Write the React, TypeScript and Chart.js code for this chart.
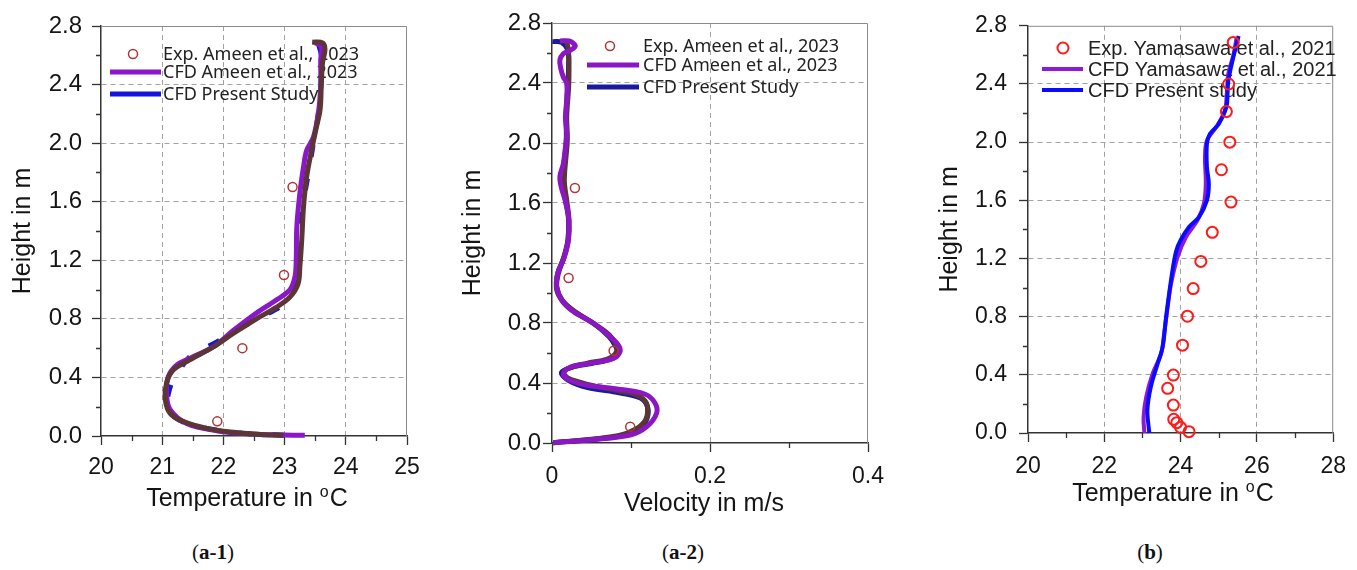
import React, { useEffect, useRef } from "react";
import { Chart, registerables } from "chart.js";

Chart.register(...registerables);

// ---------- shared ticks ----------
const heightTicks = [0, 0.4, 0.8, 1.2, 1.6, 2.0, 2.4, 2.8];
const heightMinor = [0.2, 0.6, 1.0, 1.4, 1.8, 2.2, 2.6];

// ---------- (a-1) temperature, Ameen ----------
const a1TempTicks = [20, 21, 22, 23, 24, 25];
const a1TempMinor = [20.5, 21.5, 22.5, 23.5, 24.5];
const a1ExpLabel = "Exp. Ameen et al., 2023";
const a1CfdLabel = "CFD Ameen et al., 2023";
const a1PresentLabel = "CFD Present Study";
const a1ExpTemp = [23.13, 22.99, 22.31, 21.9];
const a1ExpHeight = [1.7, 1.1, 0.6, 0.1];
const a1CfdTemp = [23.33, 22.98, 22.43, 21.89, 21.4, 21.13, 21.07, 21.1, 21.24, 21.45, 21.84, 22.16, 22.54, 22.87, 23.09, 23.17, 23.19, 23.2, 23.25, 23.31, 23.36, 23.47, 23.55, 23.59, 23.59, 23.6, 23.5];
const a1CfdHeight = [0.005, 0.007, 0.014, 0.036, 0.086, 0.18, 0.29, 0.405, 0.485, 0.53, 0.61, 0.72, 0.84, 0.93, 1.0, 1.09, 1.2, 1.43, 1.66, 1.84, 1.95, 2.04, 2.2, 2.39, 2.57, 2.66, 2.685];
const a1ShadowTemp = [22.98, 22.6, 22.16, 21.73, 21.35, 21.13, 21.05, 21.07, 21.18, 21.45, 21.84, 22.16, 22.54, 22.87, 23.09, 23.22, 23.25, 23.28, 23.31, 23.36, 23.44, 23.52, 23.58, 23.6, 23.62, 23.66, 23.62, 23.45];
const a1ShadowHeight = [0.005, 0.011, 0.025, 0.052, 0.098, 0.155, 0.25, 0.36, 0.45, 0.52, 0.61, 0.7, 0.8, 0.88, 0.95, 1.04, 1.16, 1.34, 1.57, 1.77, 1.95, 2.11, 2.23, 2.4, 2.55, 2.64, 2.685, 2.69];
const a1PresentTemp = [23.0, 22.6, 22.2, 21.75, 21.35, 21.12, 21.08, 21.12, 21.2, 21.5, 21.84, 22.2, 22.6, 22.98, 23.15, 23.22, 23.25, 23.33, 23.4, 23.47, 23.55, 23.6, 23.6, 23.55];
const a1PresentHeight = [0.005, 0.012, 0.022, 0.05, 0.095, 0.16, 0.22, 0.32, 0.4, 0.56, 0.63, 0.72, 0.81, 0.9, 1.0, 1.1, 1.38, 1.65, 1.82, 2.0, 2.2, 2.45, 2.6, 2.68];

// ---------- (a-2) velocity, Ameen ----------
const a2VelTicks = [0, 0.2, 0.4];
const a2VelMinor = [0.1, 0.3];
const a2ExpVel = [0.029, 0.021, 0.078, 0.099];
const a2ExpHeight = [1.7, 1.1, 0.615, 0.109];
const a2CfdVel = [0.0017, 0.05, 0.099, 0.12, 0.1325, 0.13, 0.118, 0.08, 0.045, 0.022, 0.0143, 0.0228, 0.0481, 0.0776, 0.0861, 0.084, 0.0734, 0.0523, 0.027, 0.0122, 0.0059, 0.0072, 0.0143, 0.02, 0.0215, 0.0207, 0.0165, 0.012, 0.01, 0.0143, 0.0165, 0.0186, 0.017, 0.0186, 0.0186, 0.0143, 0.011, 0.01, 0.0143, 0.022, 0.029, 0.028, 0.022, 0.01];
const a2CfdHeight = [0.002, 0.022, 0.053, 0.109, 0.2, 0.27, 0.325, 0.362, 0.385, 0.42, 0.46, 0.505, 0.531, 0.564, 0.61, 0.653, 0.709, 0.798, 0.876, 0.953, 1.042, 1.131, 1.22, 1.33, 1.42, 1.52, 1.62, 1.7, 1.776, 1.86, 1.95, 2.064, 2.17, 2.287, 2.398, 2.44, 2.5, 2.553, 2.595, 2.615, 2.642, 2.66, 2.68, 2.68];
const a2ShadowVel = [0.0017, 0.05, 0.085, 0.105, 0.118, 0.121, 0.118, 0.105, 0.0903, 0.0481, 0.0207, 0.015, 0.0207, 0.0439, 0.0692, 0.08, 0.0819, 0.0726, 0.0523, 0.029, 0.0143, 0.006, 0.0072, 0.0156, 0.0207, 0.0215, 0.0186, 0.0156, 0.0194, 0.0186, 0.0211, 0.0215, 0.0207, 0.0186];
const a2ShadowHeight = [0.002, 0.025, 0.05, 0.09, 0.15, 0.22, 0.28, 0.325, 0.342, 0.387, 0.431, 0.469, 0.498, 0.531, 0.558, 0.593, 0.642, 0.72, 0.798, 0.876, 0.942, 1.02, 1.131, 1.242, 1.353, 1.487, 1.62, 1.753, 2.02, 2.176, 2.376, 2.51, 2.62, 2.676];
const a2PresentVel = [0.0017, 0.05, 0.09, 0.11, 0.12, 0.121, 0.112, 0.085, 0.045, 0.02, 0.012, 0.025, 0.05, 0.075, 0.083, 0.08, 0.072, 0.052, 0.028, 0.013, 0.006, 0.008, 0.015, 0.02, 0.021, 0.017, 0.013, 0.015, 0.018, 0.018, 0.02, 0.021, 0.02, 0.012, 0.0005];
const a2PresentHeight = [0.002, 0.024, 0.05, 0.09, 0.16, 0.24, 0.3, 0.335, 0.37, 0.42, 0.47, 0.505, 0.53, 0.56, 0.6, 0.65, 0.71, 0.8, 0.876, 0.95, 1.04, 1.13, 1.24, 1.35, 1.49, 1.62, 1.75, 1.86, 2.0, 2.2, 2.38, 2.52, 2.62, 2.672, 2.676];

// ---------- (b) temperature, Yamasawa ----------
const bTempTicks = [20, 22, 24, 26, 28];
const bTempMinor = [21, 23, 25, 27];
const bExpLabel = "Exp. Yamasawa et al., 2021";
const bCfdLabel = "CFD Yamasawa et al., 2021";
const bPresentLabel = "CFD Present study";
const bExpTemp = [25.38, 25.26, 25.2, 25.29, 25.07, 25.32, 24.83, 24.53, 24.33, 24.18, 24.05, 23.81, 23.66, 23.81, 23.82, 23.9, 24.0, 24.22];
const bExpHeight = [2.686, 2.4, 2.21, 2.0, 1.81, 1.588, 1.38, 1.18, 0.993, 0.803, 0.604, 0.398, 0.307, 0.192, 0.094, 0.071, 0.039, 0.009];
const bCfdTemp = [23.05, 23.03, 23.1, 23.27, 23.49, 23.57, 23.66, 23.75, 23.92, 24.14, 24.44, 24.61, 24.66, 24.64, 24.69, 24.96, 25.16, 25.21, 25.25, 25.38, 25.47];
const bCfdHeight = [0, 0.11, 0.25, 0.41, 0.547, 0.684, 0.867, 1.027, 1.21, 1.348, 1.462, 1.576, 1.714, 1.897, 2.01, 2.114, 2.217, 2.33, 2.469, 2.594, 2.72];
const bPresentTemp = [23.18, 23.13, 23.22, 23.4, 23.53, 23.61, 23.7, 23.8, 23.89, 24.0, 24.22, 24.48, 24.69, 24.74, 24.69, 24.69, 24.77, 25.0, 25.2, 25.23, 25.25, 25.36, 25.52];
const bPresentHeight = [0, 0.158, 0.318, 0.478, 0.593, 0.776, 0.96, 1.14, 1.256, 1.325, 1.416, 1.485, 1.6, 1.714, 1.828, 1.988, 2.057, 2.125, 2.24, 2.33, 2.42, 2.56, 2.73];

// ---------- helpers ----------
const SANS = '"Liberation Sans", Arial, sans-serif';
const pts = (xs: number[], ys: number[]) => xs.map((x, i) => ({ x, y: ys[i] }));

function lineDs(label: string, xs: number[], ys: number[], color: string, width: number, order: number, extra: any = {}) {
  return {
    label,
    data: pts(xs, ys),
    showLine: true,
    borderColor: color,
    backgroundColor: color,
    borderWidth: width,
    pointRadius: 0,
    pointHoverRadius: 0,
    tension: 0.35,
    clip: 8,
    order,
    ...extra,
  };
}

function expDs(label: string, xs: number[], ys: number[], color: string, r: number, w: number) {
  return {
    label,
    data: pts(xs, ys),
    showLine: false,
    pointStyle: "circle",
    pointRadius: r,
    pointBorderWidth: w,
    pointBorderColor: color,
    pointBackgroundColor: "rgba(0,0,0,0)",
    borderColor: color,
    backgroundColor: "rgba(0,0,0,0)",
    clip: 8,
    order: 0,
  };
}

function axis(kind: "x" | "y", min: number, max: number, ticks: number[], fmt: (v: number) => string, box: number, pad: number, size: number, title?: any) {
  const edge = (v: number) => v === undefined || Math.abs(v - min) < 1e-9 || Math.abs(v - max) < 1e-9;
  return {
    type: "linear",
    min,
    max,
    afterBuildTicks: (s: any) => {
      s.ticks = ticks.map((v) => ({ value: v }));
    },
    afterFit: (s: any) => {
      if (kind === "x") s.height = box;
      else s.width = box;
    },
    ticks: {
      callback: (v: any) => fmt(Number(v)),
      font: { family: SANS, size },
      color: "#151515",
      padding: pad,
      maxRotation: 0,
      autoSkip: false,
    },
    grid: {
      color: (c: any) => (edge(c.tick ? c.tick.value : undefined) ? "rgba(0,0,0,0)" : "#a3a3a3"),
      lineWidth: 1,
      tickLength: 9,
      tickColor: "#333",
      tickWidth: 1.3,
      drawTicks: true,
    },
    border: { display: true, color: "#333", width: 1.5, dash: [5, 4] },
    title: title || { display: false },
  };
}

function yTitle(pt: number) {
  return {
    display: true,
    text: "Height in m",
    font: { family: SANS, size: 25 },
    color: "#151515",
    padding: { top: pt, bottom: 0 },
  };
}

function makeDecor(cfg: any) {
  return {
    id: "decor",
    beforeDatasetsDraw(chart: any) {
      const { ctx, chartArea: ca, scales } = chart;
      ctx.save();
      // top / right frame
      ctx.strokeStyle = "#8a8a8a";
      ctx.lineWidth = 1;
      ctx.setLineDash([]);
      ctx.beginPath();
      ctx.moveTo(ca.left, ca.top + 0.5);
      ctx.lineTo(ca.right - 0.5, ca.top + 0.5);
      ctx.lineTo(ca.right - 0.5, ca.bottom);
      ctx.stroke();
      // minor ticks
      ctx.strokeStyle = "#333";
      ctx.lineWidth = 1.3;
      ctx.beginPath();
      for (const v of cfg.minorX) {
        const px = Math.round(scales.x.getPixelForValue(v)) + 0.5;
        ctx.moveTo(px, ca.bottom);
        ctx.lineTo(px, ca.bottom + 5);
      }
      for (const v of cfg.minorY) {
        const py = Math.round(scales.y.getPixelForValue(v)) + 0.5;
        ctx.moveTo(ca.left, py);
        ctx.lineTo(ca.left - 5, py);
      }
      ctx.stroke();
      // legend (drawn beneath the curves)
      const lg = cfg.legend;
      ctx.font = `${lg.size}px ${lg.family}`;
      ctx.textBaseline = "middle";
      ctx.textAlign = "left";
      let k = 0;
      for (const ds of chart.data.datasets) {
        if (ds.legendHidden) continue;
        const y = lg.rows[k++];
        if (ds.showLine) {
          ctx.strokeStyle = ds.borderColor;
          ctx.lineWidth = lg.lineWidth;
          ctx.setLineDash([]);
          ctx.beginPath();
          ctx.moveTo(lg.lineX0, y);
          ctx.lineTo(lg.lineX1, y);
          ctx.stroke();
        } else {
          ctx.strokeStyle = ds.pointBorderColor;
          ctx.lineWidth = ds.pointBorderWidth;
          ctx.beginPath();
          ctx.arc(lg.markerX, y, ds.pointRadius, 0, Math.PI * 2);
          ctx.stroke();
        }
        ctx.fillStyle = lg.color;
        ctx.fillText(ds.label, lg.textX, y + 1);
      }
      ctx.restore();
    },
    afterDraw(chart: any) {
      const { ctx } = chart;
      const t = cfg.xTitle;
      ctx.save();
      ctx.fillStyle = "#151515";
      ctx.textBaseline = "alphabetic";
      ctx.textAlign = "left";
      const big = `${t.size}px ${SANS}`;
      const small = `${Math.round(t.size * 0.64)}px ${SANS}`;
      ctx.font = big;
      const w1 = ctx.measureText(t.main).width;
      const w3 = t.tail ? ctx.measureText(t.tail).width : 0;
      ctx.font = small;
      const w2 = t.sup ? ctx.measureText(t.sup).width + 1 : 0;
      let x = t.cx - (w1 + w2 + w3) / 2;
      const base = t.cy + t.size * 0.36;
      ctx.font = big;
      ctx.fillText(t.main, x, base);
      x += w1;
      if (t.sup) {
        ctx.font = small;
        ctx.fillText(t.sup, x, base - t.size * 0.38);
        x += w2;
      }
      if (t.tail) {
        ctx.font = big;
        ctx.fillText(t.tail, x, base);
      }
      ctx.restore();
    },
  };
}

const f1 = (v: number) => v.toFixed(1);
const f0 = (v: number) => String(Math.round(v));
const fv = (v: number) => (Math.abs(v) < 1e-9 ? "0" : v.toFixed(1));

function baseOptions(padding: any, x: any, y: any) {
  return {
    responsive: false,
    maintainAspectRatio: false,
    animation: false,
    devicePixelRatio: 1,
    events: [],
    layout: { padding },
    plugins: { legend: { display: false }, tooltip: { enabled: false }, title: { display: false } },
    scales: { x, y },
  };
}

function config1(): any {
  const purple = "#8a17c9";
  const brown = "#5c3535";
  const blue = "#1414e0";
  return {
    type: "scatter",
    data: {
      datasets: [
        expDs(a1ExpLabel, a1ExpTemp, a1ExpHeight, "#b23434", 4.5, 1.5),
        lineDs(a1CfdLabel, a1CfdTemp, a1CfdHeight, purple, 5, 2),
        lineDs(a1PresentLabel, a1PresentTemp, a1PresentHeight, blue, 5, 3, { borderDash: [12, 22] }),
        lineDs("CFD reference profile", a1ShadowTemp, a1ShadowHeight, brown, 5, 1, { legendHidden: true }),
      ],
    },
    options: baseOptions(
      { left: 0, top: 26, right: 43, bottom: 0 },
      axis("x", 20, 25, a1TempTicks, f0, 84, 9, 23),
      axis("y", 0, 2.8, heightTicks, f1, 101, 10, 24, yTitle(8))
    ),
    plugins: [
      makeDecor({
        minorX: a1TempMinor,
        minorY: heightMinor,
        legend: { markerX: 133, lineX0: 110, lineX1: 161, textX: 163, rows: [54, 72, 94], size: 18, family: '"Noto Sans", sans-serif', color: "#222", lineWidth: 5 },
        xTitle: { main: "Temperature in ", sup: "o", tail: "C", cx: 247, cy: 497, size: 25 },
      }),
    ],
  };
}

function config2(): any {
  const purple = "#8a17c2";
  const brown = "#5c3535";
  const blue = "#1a1aa0";
  return {
    type: "scatter",
    data: {
      datasets: [
        expDs(a1ExpLabel, a2ExpVel, a2ExpHeight, "#b23434", 4.5, 1.5),
        lineDs(a1CfdLabel, a2CfdVel, a2CfdHeight, purple, 5, 1),
        lineDs(a1PresentLabel, a2PresentVel, a2PresentHeight, blue, 5, 3),
        lineDs("CFD reference profile", a2ShadowVel, a2ShadowHeight, brown, 5, 2, { legendHidden: true }),
      ],
    },
    options: baseOptions(
      { left: 0, top: 23, right: 32, bottom: 0 },
      axis("x", 0, 0.4, a2VelTicks, fv, 77, 11, 23),
      axis("y", 0, 2.8, heightTicks, f1, 102, 2, 24, yTitle(8))
    ),
    plugins: [
      makeDecor({
        minorX: a2VelMinor,
        minorY: heightMinor,
        legend: { markerX: 160, lineX0: 137, lineX1: 189, textX: 193, rows: [46, 65, 87], size: 18, family: '"Noto Sans", sans-serif', color: "#222", lineWidth: 5 },
        xTitle: { main: "Velocity in m/s", sup: "", tail: "", cx: 254, cy: 502, size: 25 },
      }),
    ],
  };
}

function config3(): any {
  const purple = "#8c1ad6";
  const blue = "#0a0aff";
  return {
    type: "scatter",
    data: {
      datasets: [
        expDs(bExpLabel, bExpTemp, bExpHeight, "#ff1a1a", 5.5, 2),
        lineDs(bCfdLabel, bCfdTemp, bCfdHeight, purple, 4, 2),
        lineDs(bPresentLabel, bPresentTemp, bPresentHeight, blue, 4, 1),
      ],
    },
    options: baseOptions(
      { left: 0, top: 25, right: 22, bottom: 0 },
      axis("x", 20, 28, bTempTicks, f0, 87, 11, 23),
      axis("y", 0, 2.8, heightTicks, f1, 128, 12, 23, yTitle(35))
    ),
    plugins: [
      makeDecor({
        minorX: bTempMinor,
        minorY: heightMinor,
        legend: { markerX: 163, lineX0: 142, lineX1: 183, textX: 188, rows: [48, 69, 90], size: 20, family: SANS, color: "#222", lineWidth: 4 },
        xTitle: { main: "Temperature in ", sup: "o", tail: "C", cx: 273, cy: 492, size: 25 },
      }),
    ],
  };
}

const captionStyle: React.CSSProperties = {
  position: "absolute",
  top: 552,
  transform: "translate(-50%, -50%)",
  fontFamily: '"Liberation Serif", "Times New Roman", serif',
  fontSize: 21,
  color: "#111",
  whiteSpace: "nowrap",
};

export default function App() {
  const r1 = useRef<HTMLCanvasElement>(null);
  const r2 = useRef<HTMLCanvasElement>(null);
  const r3 = useRef<HTMLCanvasElement>(null);

  useEffect(() => {
    const charts: Chart[] = [];
    if (r1.current) charts.push(new Chart(r1.current, config1()));
    if (r2.current) charts.push(new Chart(r2.current, config2()));
    if (r3.current) charts.push(new Chart(r3.current, config3()));
    return () => charts.forEach((c) => c.destroy());
  }, []);

  const cv = (left: number, w: number): React.CSSProperties => ({ position: "absolute", left, top: 0, width: w, height: 520, display: "block" });

  return (
    <div style={{ position: "absolute", left: 0, top: 0, width: 1357, height: 570, background: "#fff", overflow: "hidden" }}>
      <canvas ref={r1} width={450} height={520} style={cv(0, 450)} />
      <canvas ref={r2} width={450} height={520} style={cv(450, 450)} />
      <canvas ref={r3} width={457} height={520} style={cv(900, 457)} />
      <div style={{ ...captionStyle, left: 213 }}>
        (<b>a-1</b>)
      </div>
      <div style={{ ...captionStyle, left: 683 }}>
        (<b>a-2</b>)
      </div>
      <div style={{ ...captionStyle, left: 1150 }}>
        (<b>b</b>)
      </div>
    </div>
  );
}
